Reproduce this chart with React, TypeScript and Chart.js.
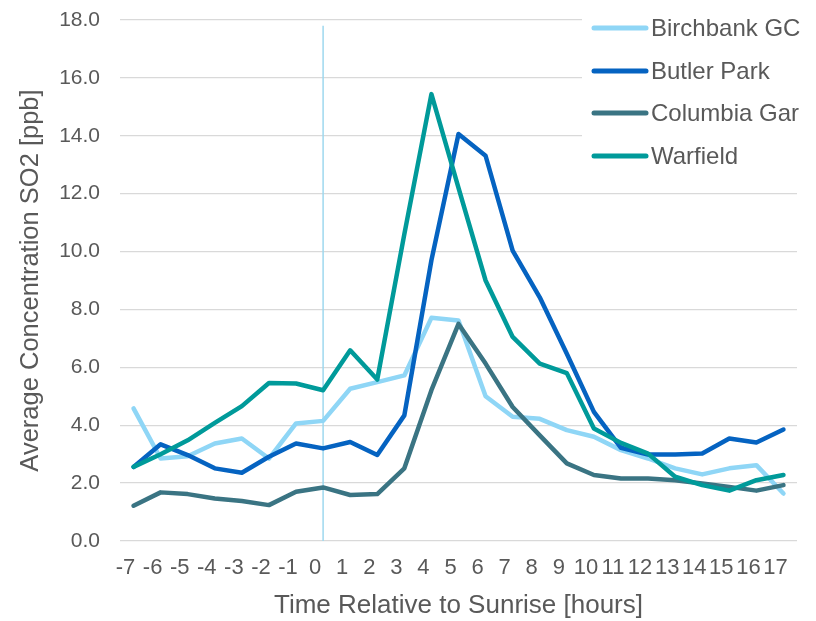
import { useEffect, useRef } from 'react';
import { Chart, registerables } from 'chart.js';

Chart.register(...registerables);

const hours = ['-7', '-6', '-5', '-4', '-3', '-2', '-1', '0', '1', '2', '3', '4', '5', '6', '7', '8', '9', '10', '11', '12', '13', '14', '15', '16', '17'];

const birchbankGC = [4.58, 2.85, 2.93, 3.37, 3.54, 2.85, 4.06, 4.15, 5.26, 5.49, 5.72, 7.71, 7.62, 5.0, 4.29, 4.22, 3.83, 3.6, 3.14, 2.85, 2.51, 2.3, 2.51, 2.62, 1.64];
const butlerPark = [2.56, 3.34, 2.97, 2.51, 2.36, 2.91, 3.37, 3.2, 3.42, 2.97, 4.34, 9.7, 14.06, 13.31, 10.03, 8.42, 6.47, 4.46, 3.22, 2.99, 2.99, 3.02, 3.54, 3.4, 3.85];
const columbiaGar = [1.22, 1.68, 1.62, 1.47, 1.38, 1.24, 1.7, 1.85, 1.59, 1.62, 2.51, 5.21, 7.5, 6.13, 4.63, 3.65, 2.68, 2.28, 2.16, 2.16, 2.1, 1.99, 1.87, 1.74, 1.93];
const warfield = [2.56, 3.0, 3.48, 4.08, 4.66, 5.46, 5.44, 5.21, 6.59, 5.58, 10.6, 15.44, 12.2, 9.0, 7.05, 6.13, 5.8, 3.89, 3.39, 3.02, 2.22, 1.93, 1.74, 2.1, 2.28];

const seriesNames = ['Birchbank GC', 'Butler Park', 'Columbia Gar', 'Warfield'];
const seriesColors = ['#8FD6F6', '#0563C1', '#3A7483', '#009A9A'];

const sunriseHour = '0';
const sunriseLine = [0, 17.8];

const yMin = 0;
const yMax = 18;
const yStep = 2;

const FONT = '"Liberation Sans", Arial, sans-serif';
const TEXT = '#595959';

export default function App() {
  const ref = useRef<HTMLCanvasElement>(null);

  useEffect(() => {
    const canvas = ref.current;
    if (!canvas) return;

    const legendPlugin = {
      id: 'insideLegend',
      afterDraw(chart: any) {
        const ctx = chart.ctx;
        ctx.save();
        ctx.fillStyle = '#ffffff';
        ctx.fillRect(582, 0, 234, 176);
        const rows = [28, 71, 113, 156];
        seriesNames.forEach((name, i) => {
          const y = rows[i];
          ctx.strokeStyle = seriesColors[i];
          ctx.lineWidth = 5;
          ctx.lineCap = 'round';
          ctx.beginPath();
          ctx.moveTo(594, y);
          ctx.lineTo(646, y);
          ctx.stroke();
          ctx.fillStyle = TEXT;
          ctx.font = `24px ${FONT}`;
          ctx.textBaseline = 'middle';
          ctx.textAlign = 'left';
          ctx.fillText(name, 651, y + 1);
        });
        ctx.restore();
      },
    };

    const values = [birchbankGC, butlerPark, columbiaGar, warfield];

    const chart = new Chart(canvas, {
      type: 'line',
      data: {
        labels: hours,
        datasets: [
          ...values.map((v, i) => ({
            label: seriesNames[i],
            data: v,
            borderColor: seriesColors[i],
            backgroundColor: seriesColors[i],
            borderWidth: 4.5,
            pointRadius: 0,
            tension: 0,
            borderCapStyle: 'round' as const,
            borderJoinStyle: 'round' as const,
            order: 4 - i,
          })),
          {
            label: 'Sunrise',
            data: sunriseLine.map((y) => ({ x: sunriseHour, y })),
            borderColor: '#9ED8EF',
            borderWidth: 1.5,
            pointRadius: 0,
            order: 10,
          } as any,
        ],
      },
      plugins: [legendPlugin],
      options: {
        responsive: false,
        animation: false,
        devicePixelRatio: 1,
        layout: { padding: { top: 20, right: 19, left: 0, bottom: 0 } },
        plugins: {
          legend: { display: false },
          tooltip: { enabled: false },
        },
        scales: {
          x: {
            type: 'category',
            offset: true,
            grid: { display: false, drawTicks: false },
            border: { display: false },
            ticks: {
              autoSkip: false,
              maxRotation: 0,
              minRotation: 0,
              padding: 14,
              labelOffset: -8,
              color: TEXT,
              font: { family: FONT, size: 22 },
            },
            title: {
              display: true,
              text: 'Time Relative to Sunrise [hours]',
              color: TEXT,
              font: { family: FONT, size: 26 },
              padding: { top: 0, bottom: 0 },
            },
            afterFit: (s: any) => {
              s.height = 80;
            },
          },
          y: {
            min: yMin,
            max: yMax,
            grid: {
              color: '#D9D9D9',
              lineWidth: 1.25,
              drawTicks: true,
              tickLength: 20,
              tickColor: 'rgba(0,0,0,0)',
            },
            border: { display: false },
            ticks: {
              stepSize: yStep,
              padding: 0,
              color: TEXT,
              font: { family: FONT, size: 21 },
              callback: (v: any) => Number(v).toFixed(1),
            },
            title: {
              display: true,
              text: 'Average Concentration SO2 [ppb]',
              color: TEXT,
              font: { family: FONT, size: 25.5 },
              padding: { top: 16, bottom: 0 },
            },
            afterFit: (s: any) => {
              s.width = 120;
            },
          },
        },
      },
    });

    return () => chart.destroy();
  }, []);

  return (
    <div style={{ position: 'fixed', left: 0, top: 0, width: 816, height: 621, background: '#ffffff' }}>
      <canvas ref={ref} width={816} height={621} style={{ display: 'block', width: 816, height: 621 }} />
    </div>
  );
}
